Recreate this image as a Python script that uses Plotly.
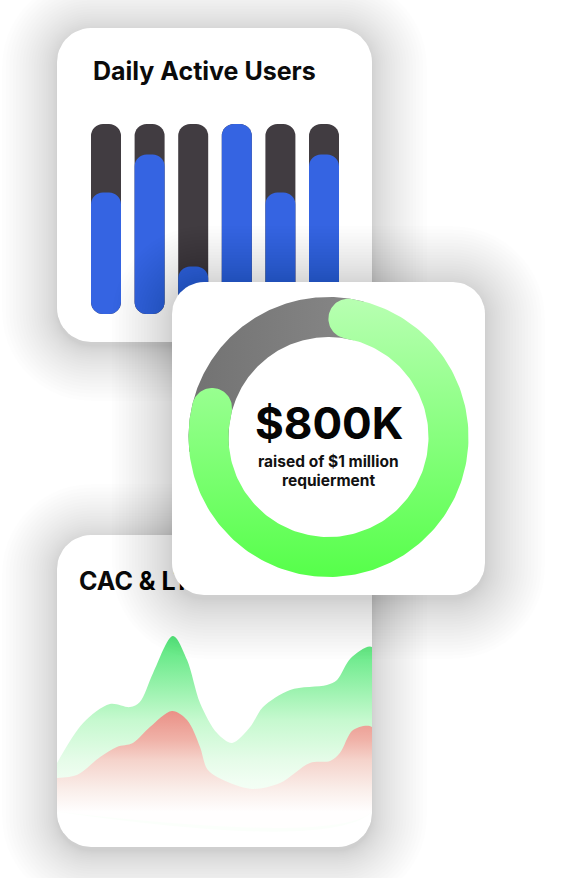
import math
import numpy as np
import plotly.graph_objects as go

W, H = 585, 878

# ---------------- data ----------------
days = ["Mon", "Tue", "Wed", "Thu", "Fri", "Sat"]
dau_capacity = [100, 100, 100, 100, 100, 100]
dau_active = [64, 84, 25, 100, 64, 84]

raised = 800_000
goal = 1_000_000

ltv_x = [0, 8.3, 16.8, 23.2, 26.3, 30.5, 36.8, 41.3, 45.4, 50.8, 55.6, 61.3, 65.4, 74, 85.7, 88.9, 93.3, 100]
ltv_y = [38.2, 56.4, 65, 63.6, 65.9, 79.1, 95.9, 85, 65.5, 51.8, 47.3, 54.5, 63.6, 71.4, 73.6, 75.9, 85.9, 90.9]
cac_x = [0, 6.3, 13.7, 19, 24.1, 29.5, 36.5, 41.3, 45.4, 47.9, 54.9, 62.2, 70.8, 80.3, 86.7, 89.8, 94, 100]
cac_y = [31.4, 32.7, 40.9, 45.5, 47.3, 54.5, 61.8, 57.7, 45.5, 35, 29.1, 26.4, 29.1, 38.2, 39.1, 42.7, 53.2, 54.5]

# ---------------- layout geometry (pixels) ----------------
CARD1 = (57, 28, 372, 342)
CARD2 = (172, 282, 485, 595)
CARD3 = (57, 535, 372, 847)
R_CARD = 34
R_CARD2 = 32
FONT = "Inter"


def rrect(x0, y0, x1, y1, r, n=14):
    xs, ys = [], []
    corners = [(x1 - r, y0 + r, -90, 0), (x1 - r, y1 - r, 0, 90),
               (x0 + r, y1 - r, 90, 180), (x0 + r, y0 + r, 180, 270)]
    for cx, cy, a0, a1 in corners:
        for a in np.linspace(a0, a1, n):
            t = math.radians(a)
            xs.append(cx + r * math.cos(t))
            ys.append(cy + r * math.sin(t))
    xs.append(xs[0]); ys.append(ys[0])
    return xs, ys


def shadow_traces(rect, r, xa, ya, N=24, spread=60, alpha=0.0065, dy=4, power=1.4):
    out = []
    x0, y0, x1, y1 = rect
    for k in range(1, N + 1):
        e = spread * (k / N) ** power
        xs, ys = rrect(x0 - e, y0 - e + dy, x1 + e, y1 + e + dy, r + e)
        out.append(go.Scatter(x=xs, y=ys, mode="lines", fill="toself",
                              fillcolor=f"rgba(0,0,0,{alpha})", line=dict(width=0),
                              hoverinfo="skip", showlegend=False, xaxis=xa, yaxis=ya))
    return out


def card_trace(rect, r, xa, ya):
    xs, ys = rrect(*rect, r)
    return go.Scatter(x=xs, y=ys, mode="lines", fill="toself", fillcolor="white",
                      line=dict(width=0), hoverinfo="skip", showlegend=False,
                      xaxis=xa, yaxis=ya)


def pol(cx, cy, r, a):
    t = math.radians(a)
    return cx + r * math.sin(t), cy - r * math.cos(t)


def band(cx, cy, rin, rout, a0, a1, caps, n=180):
    xs, ys = [], []
    for a in np.linspace(a0, a1, n):
        p = pol(cx, cy, rout, a); xs.append(p[0]); ys.append(p[1])
    rm, hw = (rin + rout) / 2, (rout - rin) / 2
    if caps:
        t = math.radians(a1)
        c = pol(cx, cy, rm, a1)
        rad = (math.sin(t), -math.cos(t)); tan = (math.cos(t), math.sin(t))
        for f in np.linspace(0, math.pi, 40):
            xs.append(c[0] + hw * (math.cos(f) * rad[0] + math.sin(f) * tan[0]))
            ys.append(c[1] + hw * (math.cos(f) * rad[1] + math.sin(f) * tan[1]))
    for a in np.linspace(a1, a0, n):
        p = pol(cx, cy, rin, a); xs.append(p[0]); ys.append(p[1])
    if caps:
        t = math.radians(a0)
        c = pol(cx, cy, rm, a0)
        rad = (math.sin(t), -math.cos(t)); tan = (math.cos(t), math.sin(t))
        for f in np.linspace(0, math.pi, 40):
            xs.append(c[0] + hw * (-math.cos(f) * rad[0] - math.sin(f) * tan[0]))
            ys.append(c[1] + hw * (-math.cos(f) * rad[1] - math.sin(f) * tan[1]))
    xs.append(xs[0]); ys.append(ys[0])
    return xs, ys


traces = []

# ---- bottom layer (x / y): cards 1 and 3 ----
traces += shadow_traces(CARD1, R_CARD, "x", "y", spread=55, alpha=0.006, power=1.6)
traces += shadow_traces(CARD3, R_CARD, "x", "y", spread=55, alpha=0.006, power=1.6)
traces.append(card_trace(CARD1, R_CARD, "x", "y"))
traces.append(card_trace(CARD3, R_CARD, "x", "y"))

# ---- bars (x2 / y2) ----
BAR_W = 0.688
DARK = "#413c41"
BLUE = "#3564e2"
for ys, col in ((dau_capacity, DARK), (dau_active, BLUE)):
    traces.append(go.Bar(x=days, y=ys, base=[0] * len(ys), width=BAR_W,
                         marker=dict(color=col, cornerradius=12, line=dict(width=0)),
                         hoverinfo="skip", showlegend=False, xaxis="x2", yaxis="y2"))

# ---- area chart (x3 / y3) ----
FLOOR = 16
traces.append(go.Scatter(
    x=ltv_x + [100, 0], y=ltv_y + [FLOOR, FLOOR], mode="lines", fill="toself",
    line=dict(width=0, shape="spline", smoothing=0.9),
    fillgradient=dict(type="vertical", start=FLOOR, stop=96,
                      colorscale=[[0, "#fbfffb"], [0.17, "#f1fef3"], [0.29, "#e6fce9"],
                                  [0.52, "#c6f9cf"], [0.71, "#98f2ac"], [1, "#52e578"]]),
    hoverinfo="skip", showlegend=False, xaxis="x3", yaxis="y3"))
traces.append(go.Scatter(
    x=cac_x + [100, 0], y=cac_y + [FLOOR, FLOOR], mode="lines", fill="toself",
    line=dict(width=0, shape="spline", smoothing=0.9),
    fillgradient=dict(type="vertical", start=FLOOR, stop=62,
                      colorscale=[[0, "#fffefe"], [0.22, "#faeeea"], [0.51, "#f5d3cb"],
                                  [0.71, "#f0b2a8"], [1, "#ea9086"]]),
    hoverinfo="skip", showlegend=False, xaxis="x3", yaxis="y3"))
traces.append(go.Scatter(
    x=[(79 - 57) / 3.15], y=[(847 - 584) / 2.2], mode="text", text=["<b>CAC &amp; LTV</b>"],
    textposition="middle right", textfont=dict(family=FONT, size=25, color="#0b0b0b"),
    cliponaxis=False, hoverinfo="skip", showlegend=False, xaxis="x3", yaxis="y3"))

# ---- top layer (x4 / y4): card 2 with donut ----
traces += shadow_traces(CARD2, R_CARD2, "x4", "y4")
traces.append(card_trace(CARD2, R_CARD2, "x4", "y4"))

CX, CY, RIN, ROUT = 328.5, 437, 100, 140
sweep = 360 * raised / goal
cap_deg = math.degrees(((ROUT - RIN) / 2) / ((ROUT + RIN) / 2))
g0, g1 = cap_deg, sweep - 4
gx, gy = band(CX, CY, RIN, ROUT, g1 - 20, 360 + g0 + 5, caps=False)
traces.append(go.Scatter(
    x=gx, y=gy, mode="lines", fill="toself", line=dict(width=0),
    fillgradient=dict(type="horizontal", start=190, stop=345,
                      colorscale=[[0, "#727272"], [1, "#858585"]]),
    hoverinfo="skip", showlegend=False, xaxis="x4", yaxis="y4"))
ax_, ay_ = band(CX, CY, RIN, ROUT, g0, g1, caps=True)
traces.append(go.Scatter(
    x=ax_, y=ay_, mode="lines", fill="toself", line=dict(width=0),
    fillgradient=dict(type="vertical", start=CY - ROUT, stop=CY + ROUT,
                      colorscale=[[0, "#b8ffb2"], [1, "#56ff4a"]]),
    hoverinfo="skip", showlegend=False, xaxis="x4", yaxis="y4"))

fig = go.Figure(traces)

annotations = [
    dict(x=91, y=71, xref="x", yref="y", text="<b>Daily Active Users</b>", showarrow=False,
         xanchor="left", yanchor="middle", font=dict(family=FONT, size=25, color="#0b0b0b")),
    dict(x=CX, y=422.5, xref="x", yref="y", text=f"<b>${raised // 1000}K</b>", showarrow=False,
         xanchor="center", yanchor="middle", font=dict(family=FONT, size=44, color="#050505")),
    dict(x=CX, y=461, xref="x", yref="y", text=f"<b>raised of ${goal // 1_000_000} million</b>",
         showarrow=False, xanchor="center", yanchor="middle",
         font=dict(family=FONT, size=15.5, color="#111111")),
    dict(x=CX, y=480, xref="x", yref="y", text="<b>requierment</b>",
         showarrow=False, xanchor="center", yanchor="middle",
         font=dict(family=FONT, size=15.5, color="#111111")),
]

hidden = dict(visible=False, fixedrange=True, showgrid=False, zeroline=False)
fig.update_layout(
    width=W, height=H, autosize=False,
    margin=dict(l=0, r=0, t=0, b=0, pad=0),
    paper_bgcolor="white", plot_bgcolor="rgba(0,0,0,0)",
    barmode="overlay", showlegend=False, hovermode=False,
    xaxis=dict(domain=[0, 1], range=[0, W], anchor="y", **hidden),
    yaxis=dict(domain=[0, 1], range=[H, 0], anchor="x", **hidden),
    xaxis2=dict(domain=[84.2 / W, 345.8 / W], range=[-0.5, 5.5], anchor="y2", type="category", **hidden),
    yaxis2=dict(domain=[(H - 314) / H, (H - 124) / H], range=[0, 100], anchor="x2", **hidden),
    xaxis3=dict(domain=[57 / W, 372 / W], range=[0, 100], anchor="y3", **hidden),
    yaxis3=dict(domain=[(H - 847) / H, (H - 535) / H], range=[0, (847 - 535) / 2.2], anchor="x3", **hidden),
    xaxis4=dict(domain=[0, 1], range=[0, W], anchor="y4", **hidden),
    yaxis4=dict(domain=[0, 1], range=[H, 0], anchor="x4", **hidden),
    annotations=annotations,
)

fig.write_html("out.html", config={"displayModeBar": False, "staticPlot": True})
